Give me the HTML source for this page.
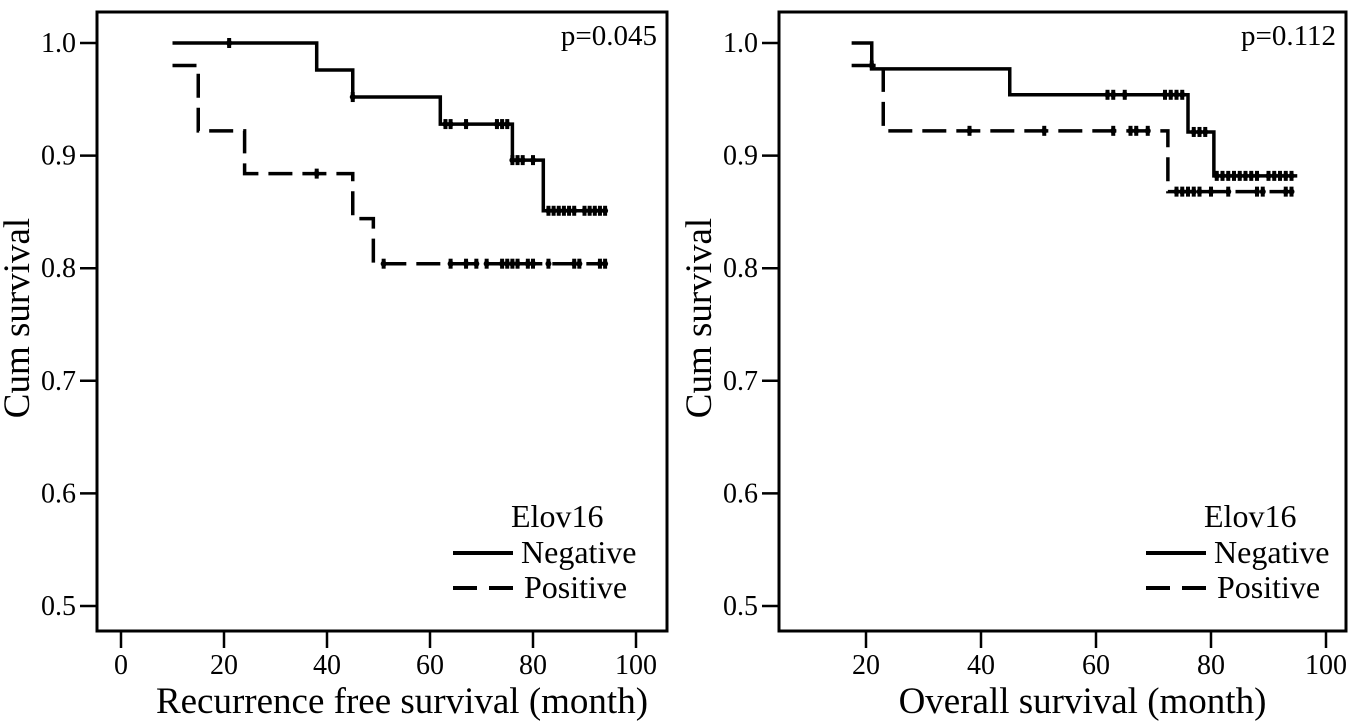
<!DOCTYPE html>
<html><head><meta charset="utf-8"><style>
html,body{margin:0;padding:0;background:#fff;width:1358px;height:726px;overflow:hidden}
svg text{font-family:"Liberation Serif",serif;fill:#000}
</style></head><body>
<svg id="c" width="1358" height="726" xmlns="http://www.w3.org/2000/svg"></svg>
<script>
// Left panel data
const leftNegTimes=[10,38,45,62,76,82,94];
const leftNegSurv=[1.0,0.976,0.952,0.928,0.896,0.851,0.851];
const leftNegCens=[21,45,63,64,67,73,74,75,76,77,78,80,83,84,85,86,87,88,90,91,92,93,94];
const leftPosTimes=[10,15,24,45,49,94];
const leftPosSurv=[0.98,0.922,0.884,0.844,0.804,0.804];
const leftPosCens=[38,51,64,67,69,71,74,75,76,77,79,80,83,88,89,93,94];
const leftXTicks=[0,20,40,60,80,100];
// Right panel data
const rightNegTimes=[17.5,21,45,76,80.5,95];
const rightNegSurv=[1.0,0.977,0.954,0.921,0.882,0.882];
const rightNegCens=[62,63,65,72,73,74,75,77,78,79,81,82,83,84,85,86,87,88,90,91,92,93,94];
const rightPosTimes=[17.5,23,72.5,95];
const rightPosSurv=[0.98,0.922,0.868,0.868];
const rightPosCens=[21,38,51,63,66,67,69,74,75,76,77,78,80,83,88,89,93,94];
const rightXTicks=[20,40,60,80,100];
const yTicks=[0.5,0.6,0.7,0.8,0.9,1.0];
const yTickLabels=["0.5","0.6","0.7","0.8","0.9","1.0"];

const svg=document.getElementById('c');
const NS='http://www.w3.org/2000/svg';
function mk(tag,attrs,parent){const e=document.createElementNS(NS,tag);for(const k in attrs)e.setAttribute(k,attrs[k]);(parent||svg).appendChild(e);return e;}
function yS(v){return 43+(1-v)*1126;}

function panel(o){
  const g=mk('g',{});
  
  
  const xS=v=>o.x0+(v-o.v0)*(o.x1-o.x0)/(o.v1-o.v0);
  const f=mk('rect',{x:o.bl,y:12,width:o.br-o.bl,height:619,fill:'none',stroke:'#000','stroke-width':3},g);
  
  yTicks.forEach((t,i)=>{
    mk('line',{x1:o.bl-17,x2:o.bl,y1:yS(t),y2:yS(t),stroke:'#000','stroke-width':2.5},g);
    const tx=mk('text',{x:o.bl-21,y:yS(t)+9,'text-anchor':'end','font-size':28},g);
    tx.textContent=yTickLabels[i];
    
  });
  o.xticks.forEach(t=>{
    mk('line',{x1:xS(t),x2:xS(t),y1:631,y2:648,stroke:'#000','stroke-width':2.5},g);
    const tx=mk('text',{x:xS(t),y:674,'text-anchor':'middle','font-size':28},g);
    tx.textContent=String(t);
    
  });
  const yt=mk('text',{x:0,y:0,'text-anchor':'middle','font-size':37,transform:`translate(${o.bl-68},${318}) rotate(-90)`},g);
  yt.textContent='Cum survival';
  const xt=mk('text',{x:(o.bl+o.br)/2+20,y:713,'text-anchor':'middle','font-size':37},g);
  xt.textContent=o.xtitle;
  const pt=mk('text',{x:o.br-10,y:45,'text-anchor':'end','font-size':29},g);
  pt.textContent=o.p;
  function series(times,surv,cens,dash,name){
    let d=`M${xS(times[0])},${yS(surv[0])}`;
    for(let i=1;i<times.length;i++){d+=` H${xS(times[i])} V${yS(surv[i])}`;}
    const p=mk('path',{d:d,fill:'none',stroke:'#000','stroke-width':3.5,'stroke-dasharray':dash},g);
    
    cens.forEach(c=>{
      let s=surv[0];for(let i=0;i<times.length;i++){if(times[i]<=c)s=surv[i];}
      const m=mk('line',{x1:xS(c),x2:xS(c),y1:yS(s)-5,y2:yS(s)+5,stroke:'#000','stroke-width':4},g);
      
      const dt=mk('circle',{cx:xS(c),cy:yS(s),r:3,fill:'#000'},g);
      
    });
  }
  series(o.nt,o.ns,o.nc,'none','negative');
  series(o.pt,o.ps,o.pc,'24,10','positive');
  const lx=o.lx;
  const lt=mk('text',{x:lx+58,y:527,'font-size':32},g);lt.textContent='Elov16';
  
  const l1=mk('line',{x1:lx,x2:lx+60,y1:553,y2:553,stroke:'#000','stroke-width':4},g);
  
  const t1=mk('text',{x:lx+68,y:563,'font-size':32},g);t1.textContent='Negative';
  
  const l2=mk('line',{x1:lx,x2:lx+60,y1:588,y2:588,stroke:'#000','stroke-width':4,'stroke-dasharray':'24,12'},g);
  
  const t2=mk('text',{x:lx+71,y:598,'font-size':32},g);t2.textContent='Positive';
  
}
panel({name:'rfs-panel',bl:97,br:667,x0:121,x1:636,v0:0,v1:100,xticks:leftXTicks,xtitle:'Recurrence free survival (month)',p:'p=0.045',
  nt:leftNegTimes,ns:leftNegSurv,nc:leftNegCens,pt:leftPosTimes,ps:leftPosSurv,pc:leftPosCens,lx:453});
panel({name:'os-panel',bl:779,br:1346,x0:866,x1:1326,v0:20,v1:100,xticks:rightXTicks,xtitle:'Overall survival (month)',p:'p=0.112',
  nt:rightNegTimes,ns:rightNegSurv,nc:rightNegCens,pt:rightPosTimes,ps:rightPosSurv,pc:rightPosCens,lx:1146});
</script>
</body></html>
